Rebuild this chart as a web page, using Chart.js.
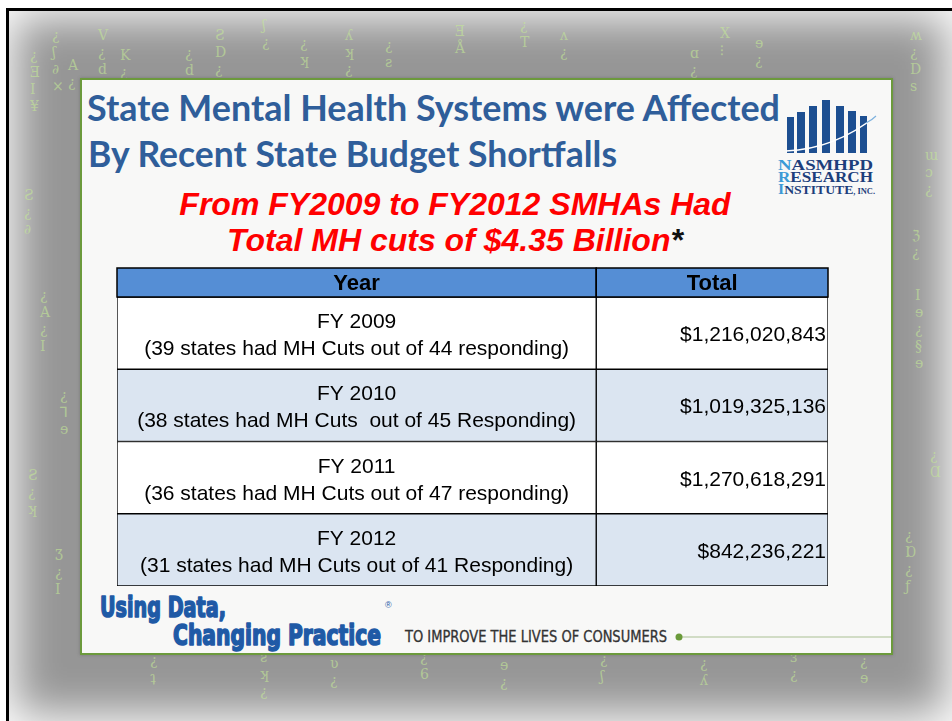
<!DOCTYPE html>
<html>
<head>
<meta charset="utf-8">
<title>State MH budget cuts FY2009-FY2012</title>
<script src="https://cdn.jsdelivr.net/npm/chart.js@4.4.1/dist/chart.umd.min.js"></script>
<style>
  html, body { margin: 0; padding: 0; background: #fff; }
  #page { position: relative; width: 952px; height: 721px; overflow: hidden; background: #fff; }
  #vignette { position: absolute; left: 9px; top: 11px; width: 943px; height: 710px;
              background: #969696; box-shadow: inset 0 0 44px 6px #fff; }
  #frame { position: absolute; left: 6px; top: 8px; right: -4px; bottom: -4px;
           border-left: 3px solid #000; border-top: 3px solid #000; }
  #panel { position: absolute; left: 80px; top: 78px; width: 809px; height: 573px;
           background: #f8f8f7; border: 2px solid #6c9a3c;
           box-shadow: 0 0 3px rgba(60,60,60,0.35); }
  svg, canvas { position: absolute; left: 0; top: 0; }
</style>
</head>
<body>
<div id="page">
  <div id="vignette"></div>
  <svg id="glyphs" width="952" height="721" xmlns="http://www.w3.org/2000/svg"></svg>
  <div id="frame"></div>
  <div id="panel"></div>
  <svg width="952" height="721" xmlns="http://www.w3.org/2000/svg">
    <!-- title -->
    <g font-family="Lato, 'Open Sans', sans-serif" font-weight="700" font-size="37" fill="#2f5e9a">
      <text x="87" y="121" textLength="693" lengthAdjust="spacingAndGlyphs">State Mental Health Systems were Affected</text>
      <text x="88" y="167" textLength="529" lengthAdjust="spacingAndGlyphs">By Recent State Budget Shortfalls</text>
    </g>
    <!-- logo -->
    <g fill="#1d4f91">
      <rect x="787" y="117" width="7" height="36"/>
      <rect x="797" y="112" width="8" height="41"/>
      <rect x="809" y="106" width="8" height="47"/>
      <rect x="822" y="100" width="8" height="53"/>
      <rect x="836" y="106" width="8" height="47"/>
      <rect x="848" y="111" width="8" height="42"/>
      <rect x="860" y="116" width="7" height="37"/>
    </g>
    <path d="M786 151 Q835 149 876 116" stroke="#ffffff" stroke-width="1.6" fill="none"/>
    <path d="M866 123 Q872 120 876 116" stroke="#7fb2dd" stroke-width="1.2" fill="none"/>
    <g font-family="'Liberation Serif', 'DejaVu Serif', serif" font-weight="700" fill="#1d3f7c">
      <text x="778" y="170" font-size="15" textLength="95" lengthAdjust="spacingAndGlyphs"><tspan fill="#3d9ad6">N</tspan>ASMHPD</text>
      <text x="778" y="182" font-size="15" textLength="95" lengthAdjust="spacingAndGlyphs"><tspan fill="#3d9ad6">R</tspan>ESEARCH</text>
      <text x="778" y="194" font-size="13" textLength="97" lengthAdjust="spacingAndGlyphs"><tspan fill="#3d9ad6" font-size="15">I</tspan>NSTITUTE<tspan font-size="8">, INC.</tspan></text>
    </g>
    <!-- subtitle -->
    <g font-family="'Liberation Sans', Arial, sans-serif" font-weight="700" font-style="italic" font-size="32" fill="#ff0000" text-anchor="middle">
      <text x="455" y="215">From FY2009 to FY2012 SMHAs Had</text>
      <text x="455" y="251">Total MH cuts of $4.35 Billion<tspan fill="#111">*</tspan></text>
    </g>
    <!-- footer -->
    <g font-family="'Liberation Sans Narrow', 'DejaVu Sans Condensed', 'Liberation Sans', sans-serif" font-weight="900"
       fill="#1f5aa6" stroke="#1f5aa6" stroke-width="1.6" stroke-linejoin="round">
      <text x="100" y="617" font-size="29" textLength="126" lengthAdjust="spacingAndGlyphs">Using Data,</text>
      <text x="173" y="645" font-size="29" textLength="208" lengthAdjust="spacingAndGlyphs">Changing Practice</text>
    </g>
    <text x="385" y="608" font-family="'Liberation Sans', sans-serif" font-size="9" fill="#1f5aa6">®</text>
    <text x="405" y="642" font-family="'Liberation Sans Narrow', 'DejaVu Sans Condensed', sans-serif" font-size="15" fill="#333"
          stroke="#333" stroke-width="0.3" textLength="262" lengthAdjust="spacingAndGlyphs">TO IMPROVE THE LIVES OF CONSUMERS</text>
    <line x1="682" y1="637" x2="891" y2="637" stroke="#a9bf94" stroke-width="1.2"/>
    <circle cx="679" cy="637" r="3.5" fill="#6a9a3a"/>
  </svg>
  <canvas id="table" width="952" height="721"></canvas>
</div>

<script>
// table data
const headers = ['Year', 'Total'];
const years = ['FY 2009', 'FY 2010', 'FY 2011', 'FY 2012'];
const notes = [
  '(39 states had MH Cuts out of 44 responding)',
  '(38 states had MH Cuts  out of 45 Responding)',
  '(36 states had MH Cuts out of 47 responding)',
  '(31 states had MH Cuts out of 41 Responding)'
];
const totals = [1216020843, 1019325136, 1270618291, 842236221];

// layout / style
const colEdges = [0, 0.674, 1];
const headerHeight = 29;
const headerColor = '#558ed5';
const rowColors = ['#ffffff', '#dbe5f1', '#ffffff', '#dbe5f1'];
const cellFont = '21px "Liberation Sans", Arial, sans-serif';

// background decoration: faint "matrix" glyph columns in the grey margin
const glyphCols = [
  [30, 60, '¿ƎI¥'], [52, 40, '¿ʃ∂×'], [68, 70, 'A¿'], [98, 40, 'V¿d'], [120, 60, 'K¿'],
  [185, 58, '¿d'], [215, 40, 'ƧD¿'], [262, 30, 'ʃ¿'], [300, 48, '¿ʞ'], [345, 40, 'ʎʞ¿'],
  [385, 50, '¿ƨ'], [455, 36, 'ƎÅ'], [520, 30, '¿T'], [560, 40, 'ʌ¿'], [690, 58, 'ɑ¿'],
  [720, 38, 'X⁝'], [755, 48, 'ɘ¿'], [910, 40, 'ʍ¿Ds'], [925, 160, 'ɯɔ¿'], [912, 240, 'ℨ¿'],
  [915, 300, 'Iɘ¿§ɘ'], [930, 460, '¿Ɑ'], [905, 540, '¿Ɒ¿ƒ'], [24, 200, 'Ƨ¿∂'], [40, 300, '¿A¿I'],
  [60, 400, '¿⅂ɘ'], [28, 480, 'Ƨ¿ʞ'], [55, 560, 'Ʒ¿I'], [150, 665, '¿ʇ'], [260, 662, 'ƨʞ¿'],
  [330, 668, 'ʋ¿'], [420, 662, '¿6'], [500, 670, 'ɘ¿'], [600, 664, '¿ʃ'], [700, 668, '¿ʎ'],
  [790, 662, 'ɜ¿'], [860, 666, '¿ɘ']
];
const ns = 'http://www.w3.org/2000/svg';
const gsvg = document.getElementById('glyphs');
glyphCols.forEach(([gx, gy, s]) => {
  [...s].forEach((ch, k) => {
    const t = document.createElementNS(ns, 'text');
    t.setAttribute('x', gx);
    t.setAttribute('y', gy + k * 17);
    t.setAttribute('font-family', 'DejaVu Serif, serif');
    t.setAttribute('font-size', 14);
    t.setAttribute('fill', 'rgba(196,232,150,0.6)');
    t.textContent = ch;
    gsvg.appendChild(t);
  });
});

function money(v) {
  return '$' + v.toLocaleString('en-US');
}

// draws header row and cell texts on top of the bars
const tableText = {
  id: 'tableText',
  afterDatasetsDraw(chart) {
    const { ctx, chartArea, scales: { x } } = chart;
    const xs = colEdges.map(v => x.getPixelForValue(v));
    const top = chartArea.top - headerHeight;

    ctx.save();
    ctx.fillStyle = headerColor;
    ctx.fillRect(xs[0], top, xs[2] - xs[0], headerHeight);
    ctx.strokeStyle = '#000';
    ctx.lineWidth = 1.5;
    for (let i = 0; i < headers.length; i++) {
      ctx.strokeRect(xs[i], top, xs[i + 1] - xs[i], headerHeight);
    }
    ctx.fillStyle = '#000';
    ctx.textAlign = 'center';
    ctx.textBaseline = 'alphabetic';
    ctx.font = 'bold 22px "Liberation Sans", Arial, sans-serif';
    headers.forEach((h, i) => ctx.fillText(h, (xs[i] + xs[i + 1]) / 2, top + 22));

    ctx.font = cellFont;
    const meta = chart.getDatasetMeta(0);
    meta.data.forEach((bar, i) => {
      const cx = (xs[0] + xs[1]) / 2;
      ctx.textAlign = 'center';
      ctx.fillText(years[i], cx, bar.y - 5);
      ctx.fillText(notes[i], cx, bar.y + 22);
      ctx.textAlign = 'right';
      ctx.fillText(money(totals[i]), xs[2] - 2, bar.y + 8);
    });
    ctx.restore();
  }
};

new Chart(document.getElementById('table'), {
  type: 'bar',
  data: {
    labels: years,
    datasets: [
      {
        label: headers[0],
        data: years.map(() => [colEdges[0], colEdges[1]]),
        backgroundColor: rowColors,
        borderColor: '#000',
        borderWidth: 1,
        borderSkipped: false
      },
      {
        label: headers[1],
        data: totals.map(() => [colEdges[1], colEdges[2]]),
        backgroundColor: rowColors,
        borderColor: '#000',
        borderWidth: 1,
        borderSkipped: false
      }
    ]
  },
  options: {
    indexAxis: 'y',
    responsive: false,
    animation: false,
    events: [],
    grouped: false,
    barPercentage: 1,
    categoryPercentage: 1,
    layout: { padding: { left: 117, right: 124, top: 297, bottom: 135 } },
    scales: {
      x: { type: 'linear', min: 0, max: 1, display: false },
      y: { display: false }
    },
    plugins: {
      legend: { display: false },
      tooltip: { enabled: false },
      title: { display: false }
    }
  },
  plugins: [tableText]
});
</script>
</body>
</html>
